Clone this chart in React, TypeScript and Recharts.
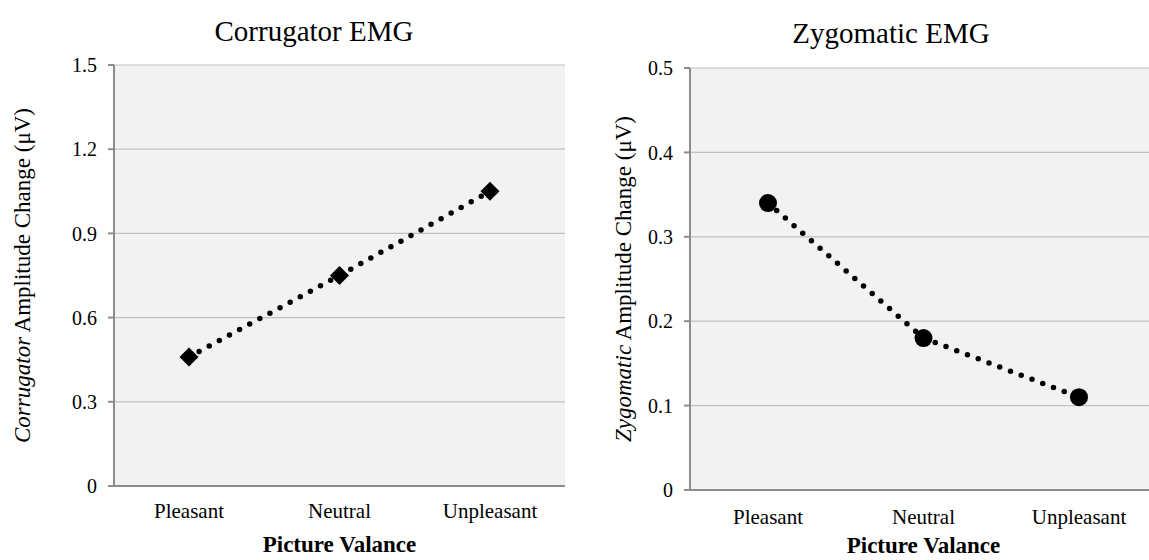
import { CartesianGrid, Line, LineChart, XAxis, YAxis } from "recharts";

const categories = ["Pleasant", "Neutral", "Unpleasant"];
const corrugatorValues = [0.46, 0.75, 1.05];
const zygomaticValues = [0.34, 0.18, 0.11];
const corrugatorTicks = [0, 0.3, 0.6, 0.9, 1.2, 1.5];
const zygomaticTicks = [0, 0.1, 0.2, 0.3, 0.4, 0.5];

const FONT = '"Liberation Serif", "Times New Roman", serif';
const AXIS_GREY = "#8c8c8c";

type Layout = {
  left: number;
  width: number;
  margin: { top: number; right: number; bottom: number; left: number };
  pad: number;
  titleX: number;
  titleY: number;
  yLabelX: number;
  xTitleDy: number;
  tickDy: number;
};

type ChartProps = {
  title: string;
  muscle: string;
  values: number[];
  ticks: number[];
  marker: "diamond" | "circle";
  layout: Layout;
};

const formatTick = (v: number) => (v === 0 ? "0" : v.toFixed(1));

function Diamond(props: any) {
  const { cx, cy } = props;
  if (cx == null || cy == null) return null;
  const s = 9.5;
  return <polygon points={`${cx},${cy - s} ${cx + s},${cy} ${cx},${cy + s} ${cx - s},${cy}`} fill="#000" />;
}

function Dot(props: any) {
  const { cx, cy } = props;
  if (cx == null || cy == null) return null;
  return <circle cx={cx} cy={cy} r={9} fill="#000" />;
}

function EmgChart({ title, muscle, values, ticks, marker, layout }: ChartProps) {
  const data = categories.map((name, i) => ({ name, value: values[i] }));
  const { margin } = layout;

  return (
    <div style={{ position: "absolute", left: layout.left, top: 0, width: layout.width, height: 560 }}>
      <div
        style={{
          position: "absolute",
          left: layout.titleX - 200,
          width: 400,
          top: layout.titleY - 18,
          textAlign: "center",
          fontFamily: FONT,
          fontSize: 29,
          lineHeight: "36px",
          color: "#000",
          whiteSpace: "nowrap",
        }}
      >
        {title}
      </div>
      <LineChart width={layout.width} height={560} data={data} margin={margin}>
        <CartesianGrid vertical={false} stroke="#c0c0c0" strokeWidth={1.2} fill="#f2f2f2" />
        <XAxis
          dataKey="name"
          height={30}
          padding={{ left: layout.pad, right: layout.pad }}
          axisLine={{ stroke: AXIS_GREY, strokeWidth: 2 }}
          tickLine={false}
          tickSize={0}
          tickMargin={layout.tickDy}
          tick={{ fill: "#000", fontFamily: FONT, fontSize: 21 }}
          label={{
            content: (p: any) => {
              const vb = p.viewBox;
              return (
                <text
                  x={vb.x + vb.width / 2}
                  y={vb.y + layout.xTitleDy}
                  textAnchor="middle"
                  dominantBaseline="central"
                  fontFamily={FONT}
                  fontSize={23}
                  fontWeight="bold"
                  fill="#000"
                >
                  Picture Valance
                </text>
              );
            },
          }}
        />
        <YAxis
          width={60}
          domain={[ticks[0], ticks[ticks.length - 1]]}
          ticks={ticks}
          interval={0}
          tickFormatter={formatTick}
          axisLine={{ stroke: AXIS_GREY, strokeWidth: 2 }}
          tickLine={{ stroke: AXIS_GREY, strokeWidth: 2 }}
          tickSize={6}
          tickMargin={11}
          tick={{ fill: "#000", fontFamily: FONT, fontSize: 20 }}
          label={{
            content: (p: any) => {
              const vb = p.viewBox;
              const cy = vb.y + vb.height / 2;
              return (
                <text
                  x={layout.yLabelX}
                  y={cy}
                  transform={`rotate(-90 ${layout.yLabelX} ${cy})`}
                  textAnchor="middle"
                  dominantBaseline="central"
                  fontFamily={FONT}
                  fontSize={23}
                  fill="#000"
                >
                  <tspan fontStyle="italic">{muscle}</tspan>
                  <tspan> Amplitude Change (μV)</tspan>
                </text>
              );
            },
          }}
        />
        <Line
          type="linear"
          dataKey="value"
          stroke="#000"
          strokeWidth={5.5}
          strokeDasharray="0 11.5"
          strokeLinecap="round"
          dot={marker === "diamond" ? <Diamond /> : <Dot />}
          activeDot={false}
          isAnimationActive={false}
        />
      </LineChart>
    </div>
  );
}

const leftLayout: Layout = {
  left: 0,
  width: 580,
  margin: { top: 65, right: 15, bottom: 44, left: 54 },
  pad: 75,
  titleX: 314,
  titleY: 31,
  yLabelX: 22,
  xTitleDy: 58,
  tickDy: 17,
};

const rightLayout: Layout = {
  left: 580,
  width: 600,
  margin: { top: 68, right: 23, bottom: 40, left: 50 },
  pad: 78,
  titleX: 311,
  titleY: 33,
  yLabelX: 43,
  xTitleDy: 55,
  tickDy: 19,
};

export default function App() {
  return (
    <div
      style={{
        position: "absolute",
        left: 0,
        top: 0,
        width: 1149,
        height: 560,
        overflow: "hidden",
        background: "#fff",
      }}
    >
      <EmgChart
        title="Corrugator EMG"
        muscle="Corrugator"
        values={corrugatorValues}
        ticks={corrugatorTicks}
        marker="diamond"
        layout={leftLayout}
      />
      <EmgChart
        title="Zygomatic EMG"
        muscle="Zygomatic"
        values={zygomaticValues}
        ticks={zygomaticTicks}
        marker="circle"
        layout={rightLayout}
      />
    </div>
  );
}
